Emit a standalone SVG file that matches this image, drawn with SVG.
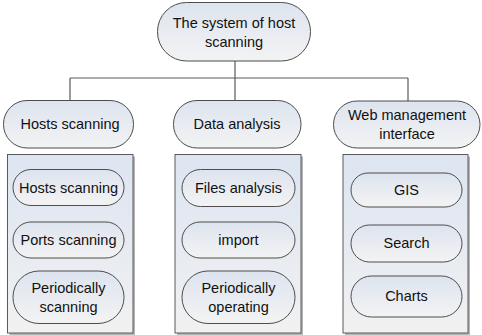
<svg xmlns="http://www.w3.org/2000/svg" width="482" height="335" viewBox="0 0 482 335">
<defs>
<linearGradient id="pill" x1="0" y1="0" x2="0" y2="1">
<stop offset="0" stop-color="#dde4ef"/>
<stop offset="1" stop-color="#f3f3f3"/>
</linearGradient>
<linearGradient id="box" x1="0" y1="0" x2="0" y2="1">
<stop offset="0" stop-color="#dce5f1"/>
<stop offset="1" stop-color="#f1f1f1"/>
</linearGradient>
</defs>
<style>
.pill{fill:url(#pill);stroke:#4d4d4d;stroke-width:1}
.box{fill:url(#box);stroke:#5a5a5a;stroke-width:1}
.shadow{fill:#b5b5b5}
.conn{fill:none;stroke:#5a5a5a;stroke-width:1.2}
text{font-family:"Liberation Sans",Arial,sans-serif;font-size:14.5px;fill:#111;text-anchor:middle}
</style>
<g id="connectors">
<path class="conn" d="M235 61 V100 M70 78 H408 M70 78 V100 M408 78 V101"/>
</g>
<g id="root">
<rect class="pill" x="157.5" y="2.5" width="153" height="58.5" rx="29"/>
<text x="234" y="28">The system of host</text>
<text x="234" y="47">scanning</text>
</g>
<g id="hosts">
<rect class="pill" x="3.5" y="100.5" width="130" height="47.5" rx="23.5"/>
<text x="70" y="129">Hosts scanning</text>
</g>
<g id="data">
<rect class="pill" x="173.5" y="100.5" width="127.5" height="47.5" rx="23.5"/>
<text x="237" y="129">Data analysis</text>
</g>
<g id="web">
<rect class="pill" x="333.5" y="101" width="146.5" height="47" rx="23.5"/>
<text x="407" y="120">Web management</text>
<text x="407" y="139">interface</text>
</g>
<g id="hosts-box">
<rect class="shadow" x="9.5" y="156.5" width="125.5" height="178.5"/>
<rect class="box" x="7.5" y="154.5" width="125.5" height="178.5"/>
</g>
<g id="data-box">
<rect class="shadow" x="177" y="156.5" width="126" height="178.5"/>
<rect class="box" x="175" y="154.5" width="126" height="178.5"/>
</g>
<g id="web-box">
<rect class="shadow" x="345" y="156.5" width="125" height="178.5"/>
<rect class="box" x="343" y="154.5" width="125" height="178.5"/>
</g>
<g id="hosts-scanning">
<rect class="pill" x="13" y="169.5" width="111" height="36" rx="18"/>
<text x="68.5" y="192.5">Hosts scanning</text>
</g>
<g id="ports-scanning">
<rect class="pill" x="13" y="222" width="111" height="36" rx="18"/>
<text x="68.5" y="245">Ports scanning</text>
</g>
<g id="periodically-scanning">
<rect class="pill" x="13" y="271" width="111" height="52.5" rx="26"/>
<text x="68.5" y="293">Periodically</text>
<text x="68.5" y="312">scanning</text>
</g>
<g id="files-analysis">
<rect class="pill" x="182" y="169.5" width="113" height="37" rx="18.5"/>
<text x="238.5" y="193">Files analysis</text>
</g>
<g id="import">
<rect class="pill" x="182" y="222" width="113" height="36" rx="18"/>
<text x="238.5" y="245">import</text>
</g>
<g id="periodically-operating">
<rect class="pill" x="182" y="271" width="113" height="52.5" rx="26"/>
<text x="238.5" y="293">Periodically</text>
<text x="238.5" y="312">operating</text>
</g>
<g id="gis">
<rect class="pill" x="351" y="173" width="111" height="34" rx="17"/>
<text x="406.5" y="195">GIS</text>
</g>
<g id="search">
<rect class="pill" x="351" y="225" width="111" height="37" rx="18.5"/>
<text x="406.5" y="248">Search</text>
</g>
<g id="charts">
<rect class="pill" x="351" y="276" width="111" height="41" rx="20.5"/>
<text x="406.5" y="301">Charts</text>
</g>
</svg>
